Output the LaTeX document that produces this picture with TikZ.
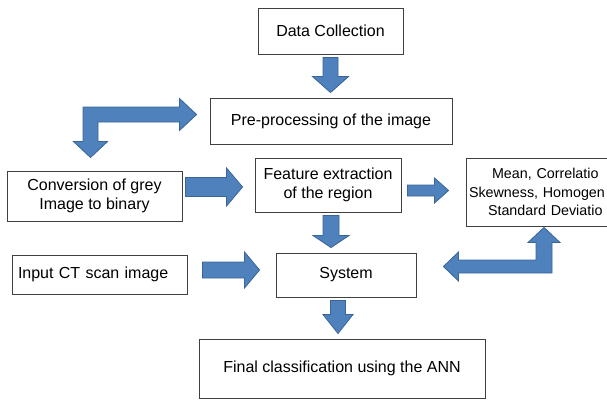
\documentclass[tikz,border=0pt]{standalone}
\usepackage{fontspec}
\setmainfont{Liberation Sans}
\usetikzlibrary{calc}
\definecolor{arrowblue}{HTML}{4F81BD}
\definecolor{arrowedge}{HTML}{3A6596}
\newcommand\fatarrow[5]{%
  \coordinate (fa-c) at ($(#2)!#5!(#1)$);
  \filldraw[blockarrow] ($(#1)!#3!90:(#2)$) -- ($(fa-c)!#3!-90:(#1)$) -- ($(fa-c)!#4!-90:(#1)$) -- (#2)
    -- ($(fa-c)!#4!90:(#1)$) -- ($(fa-c)!#3!90:(#1)$) -- ($(#1)!#3!-90:(#2)$) -- cycle;
}

\begin{document}
\begin{tikzpicture}[x=1pt,y=-1pt,
    box/.style={draw=black!75,line width=0.9pt,inner sep=0pt,align=center,font=\fontsize{16}{18.5}\selectfont},
    blockarrow/.style={fill=arrowblue,draw=arrowedge,line width=0.8pt,line join=miter}]
    \useasboundingbox (0,0) rectangle (607,399);
    \clip (0,0) rectangle (607,399);

    \node[box,minimum width=145pt,minimum height=46pt] (data) at (330.5,31) {Data Collection};
    \node[box,minimum width=242pt,minimum height=46pt] (pre) at (331,121) {Pre-processing of the image};
    \node[box,minimum width=175pt,minimum height=50pt] (conv) at (94.5,196) {Conversion of grey\\Image to binary};
    \node[box,minimum width=146pt,minimum height=54pt] (feat) at (328,185) {Feature extraction\\of the region};
    \node[box,minimum width=182pt,minimum height=68pt,text width=176pt,align=left,
          font=\fontsize{14.3}{18.3}\selectfont] (mean) at (557,192)
          {\hspace*{23pt}Mean, Correlatio\\Skewness, Homogen\\\hspace*{19pt}Standard Deviatio};
    \node[box,minimum width=175pt,minimum height=39pt,text width=163pt,align=left] (input) at (99.5,274.5) {Input CT scan image};
    \node[box,minimum width=140pt,minimum height=44pt] (sys) at (346,275) {System};
    \node[box,minimum width=286pt,minimum height=59pt] (final) at (342,368.5) {Final classification using the ANN};

    \coordinate (a1s) at ($(data.south)+(0,3)$);
    \coordinate (a1e) at ($(a1s|-pre.north)+(0,-5)$);
    \coordinate (a2s) at ($(conv.east)+(3,-9)$);
    \coordinate (a2e) at ($(a2s-|feat.west)+(-12,0)$);
    \coordinate (a3s) at ($(feat.east)+(6,5.5)$);
    \coordinate (a3e) at ($(a3s-|mean.west)+(-17,0)$);
    \coordinate (a4s) at ($(feat.south)+(3,3)$);
    \coordinate (a4e) at ($(a4s|-sys.north)+(0,-5)$);
    \coordinate (a5s) at ($(input.east)+(15,-4.5)$);
    \coordinate (a5e) at ($(a5s-|sys.west)+(-16,0)$);
    \coordinate (a6s) at ($(sys.south)+(-8,3)$);
    \coordinate (a6e) at ($(a6s|-final.north)+(0,-5)$);

    \fatarrow{a1s}{a1e}{7.5pt}{18pt}{16pt}
    \fatarrow{a2s}{a2e}{9.5pt}{19pt}{16pt}
    \fatarrow{a3s}{a3e}{5.5pt}{12.5pt}{14pt}
    \fatarrow{a4s}{a4e}{8pt}{18pt}{12pt}
    \fatarrow{a5s}{a5e}{8pt}{18pt}{15pt}
    \fatarrow{a6s}{a6e}{7.5pt}{15pt}{19pt}

    \coordinate (e1h) at ($(pre.west)+(-13,-6.5)$);
    \coordinate (e1v) at ($(conv.north)+(-4,-13)$);
    \coordinate (e1c) at (e1v|-e1h);
    \filldraw[blockarrow] ($(e1c)+(-7.5,-7.5)$) -- ($(e1h)+(-17,-7.5)$) -- ($(e1h)+(-17,-16)$) -- (e1h)
        -- ($(e1h)+(-17,16)$) -- ($(e1h)+(-17,7.5)$) -- ($(e1c)+(7.5,7.5)$) -- ($(e1v)+(7.5,-16)$)
        -- ($(e1v)+(17,-16)$) -- (e1v) -- ($(e1v)+(-17,-16)$) -- ($(e1v)+(-7.5,-16)$) -- cycle;

    \coordinate (e2v) at ($(mean.south)+(-13,1)$);
    \coordinate (e2h) at ($(sys.east)+(27,-8.5)$);
    \coordinate (e2c) at (e2v|-e2h);
    \filldraw[blockarrow] (e2v) -- ($(e2v)+(16,15)$) -- ($(e2v)+(8,15)$) -- ($(e2c)+(8,6.5)$)
        -- ($(e2h)+(15,6.5)$) -- ($(e2h)+(15,14.5)$) -- (e2h) -- ($(e2h)+(15,-14.5)$)
        -- ($(e2h)+(15,-6.5)$) -- ($(e2c)+(-8,-6.5)$) -- ($(e2v)+(-8,15)$) -- ($(e2v)+(-16,15)$) -- cycle;
\end{tikzpicture}
\end{document}
